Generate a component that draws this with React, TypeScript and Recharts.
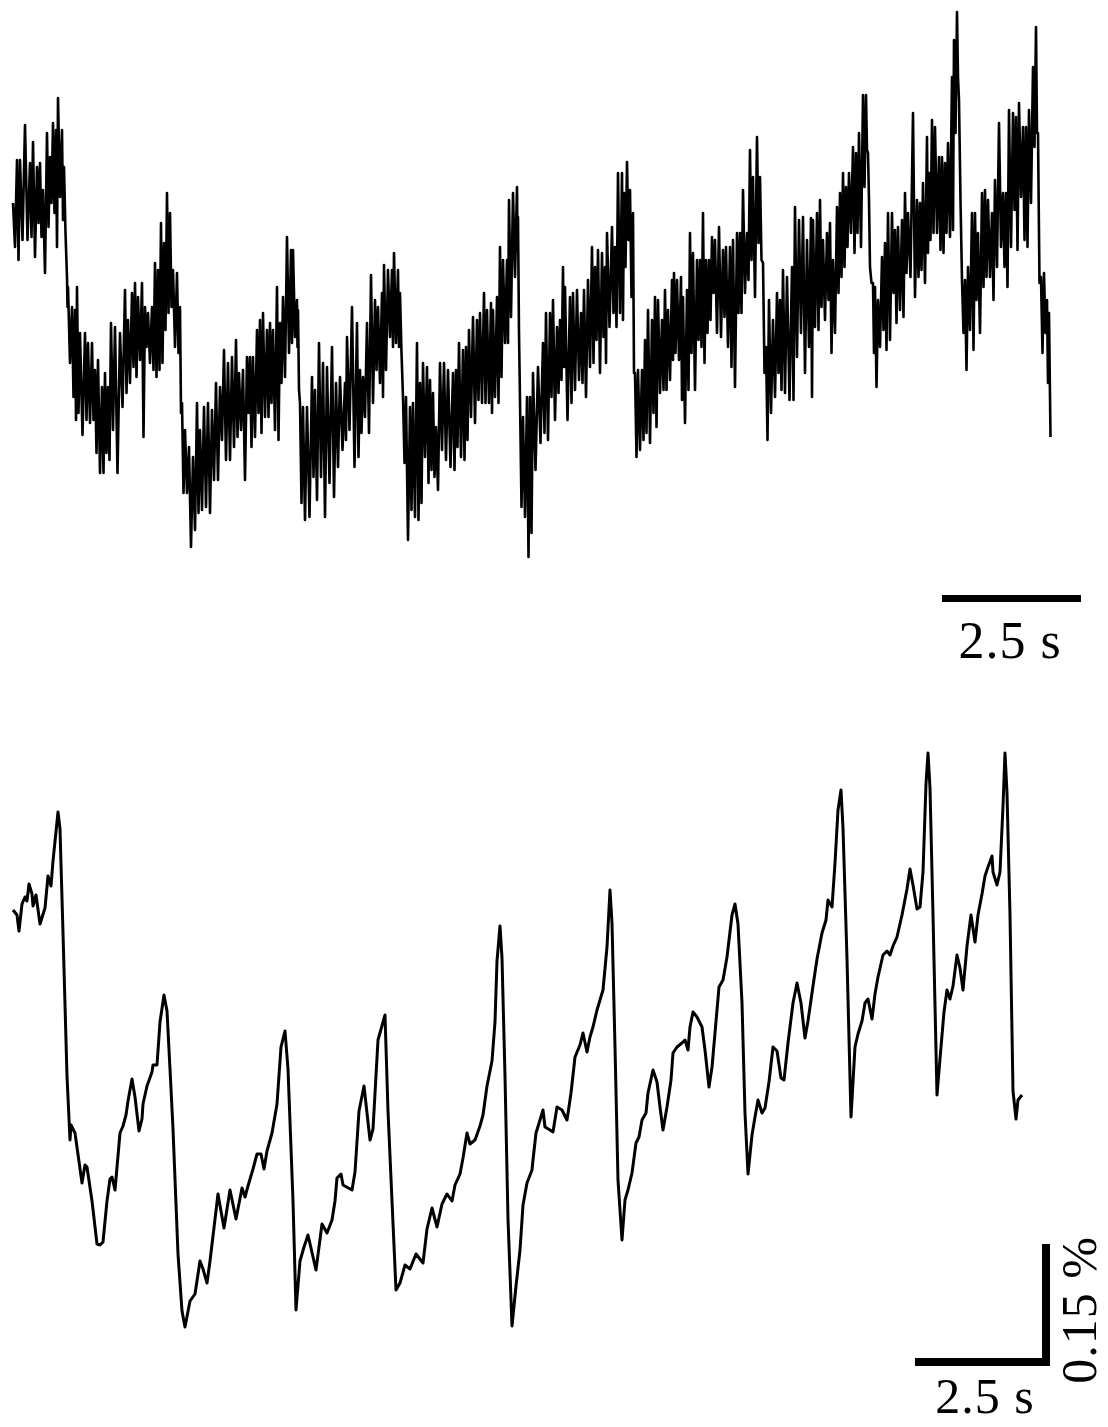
import React from 'react';
import { LineChart, Line, XAxis, YAxis } from 'recharts';

// upper panel: raw trace, read as noise crest / trough at each time step (frames, a.u.)
const topTime = [
  13, 17, 20, 25, 30, 33, 37, 40, 43, 47,
  50, 53, 56, 58, 62, 64, 67, 68, 72, 75,
  77, 80, 85, 88, 92, 95, 98, 102, 105, 108,
  111, 115, 120, 125, 128, 132, 135, 138, 142, 145,
  148, 152, 155, 158, 161, 164, 167, 170, 173, 177,
  180, 182, 185, 189, 193, 197, 200, 204, 208, 212,
  216, 220, 224, 228, 232, 236, 239, 243, 247, 250,
  253, 257, 260, 263, 267, 270, 273, 277, 280, 283,
  287, 291, 293, 297, 298, 300, 303, 307, 312, 315,
  319, 323, 327, 332, 336, 340, 345, 347, 352, 357,
  360, 363, 367, 371, 375, 378, 382, 384, 388, 392,
  394, 398, 400, 403, 406, 410, 413, 417, 420, 423,
  427, 430, 433, 436, 440, 444, 448, 453, 456, 459,
  463, 466, 469, 473, 477, 480, 484, 487, 491, 493,
  497, 500, 503, 507, 509, 513, 517, 518, 520, 523,
  527, 530, 533, 538, 543, 546, 550, 553, 557, 560,
  563, 565, 570, 573, 577, 581, 584, 588, 592, 595,
  598, 602, 605, 607, 612, 615, 618, 622, 624, 627,
  630, 633, 635, 638, 642, 645, 648, 652, 655, 658,
  662, 665, 668, 672, 674, 677, 681, 683, 687, 690,
  693, 697, 700, 703, 706, 709, 712, 715, 719, 723,
  726, 730, 733, 737, 740, 743, 747, 750, 753, 757,
  760, 763, 766, 769, 773, 777, 780, 783, 787, 792,
  795, 799, 803, 807, 811, 813, 817, 820, 823, 827,
  830, 833, 837, 840, 843, 846, 849, 853, 856, 859,
  863, 866, 868, 870, 873, 875, 878, 882, 885, 888,
  892, 895, 898, 902, 905, 908, 913, 917, 920, 923,
  927, 929, 932, 935, 939, 942, 945, 948, 952, 954,
  957, 959, 962, 965, 968, 972, 975, 978, 982, 985,
  988, 992, 995, 999, 1003, 1006, 1009, 1013, 1016, 1019,
  1023, 1026, 1029, 1033, 1036, 1038, 1041, 1044, 1047, 1049,
];

const topCrest = [
  397, 440, 440, 475, 437, 458, 433, 437, 410, 467,
  443, 477, 470, 502, 470, 433, 323, 313, 293, 290,
  313, 267, 267, 257, 257, 230, 240, 213, 227, 213,
  277, 273, 267, 310, 280, 307, 317, 303, 317, 293,
  287, 293, 337, 330, 377, 357, 407, 387, 330, 327,
  293, 197, 170, 153, 143, 197, 170, 193, 197, 190,
  217, 213, 250, 237, 243, 260, 227, 230, 243, 243,
  243, 270, 280, 287, 270, 277, 270, 313, 277, 303,
  363, 350, 350, 300, 290, 197, 193, 193, 223, 210,
  257, 237, 233, 253, 217, 223, 217, 263, 293, 277,
  230, 223, 277, 325, 300, 293, 307, 335, 330, 330,
  347, 330, 307, 203, 203, 193, 197, 257, 217, 237,
  233, 220, 207, 173, 237, 237, 230, 227, 230, 257,
  250, 253, 270, 283, 280, 287, 307, 290, 297, 290,
  303, 353, 340, 340, 400, 407, 413, 383, 200, 183,
  203, 203, 227, 233, 257, 287, 287, 300, 273, 280,
  333, 313, 303, 307, 310, 287, 310, 320, 353, 333,
  350, 347, 333, 367, 373, 353, 427, 427, 407, 438,
  410, 387, 227, 230, 230, 260, 290, 280, 303, 300,
  280, 310, 290, 320, 327, 320, 323, 303, 310, 367,
  347, 340, 340, 387, 340, 340, 363, 360, 373, 350,
  353, 353, 360, 367, 367, 410, 367, 450, 423, 463,
  423, 337, 253, 300, 280, 307, 300, 330, 323, 333,
  393, 380, 383, 360, 382, 380, 387, 400, 360, 367,
  377, 340, 393, 407, 427, 413, 427, 453, 447, 467,
  505, 505, 447, 333, 317, 313, 300, 343, 357, 387,
  387, 370, 373, 380, 407, 387, 487, 400, 397, 417,
  463, 427, 480, 473, 443, 443, 437, 457, 523, 560,
  588, 500, 320, 320, 333, 387, 387, 367, 407, 410,
  400, 387, 420, 477, 407, 407, 490, 487, 483, 497,
  473, 473, 490, 533, 573, 467, 323, 327, 300, 287,
];

const topTrough = [
  353, 340, 360, 360, 363, 343, 377, 363, 327, 373,
  397, 387, 353, 403, 380, 367, 293, 237, 203, 180,
  187, 165, 180, 177, 180, 147, 127, 127, 147, 140,
  170, 127, 193, 207, 217, 233, 223, 240, 163, 253,
  237, 230, 223, 230, 237, 270, 287, 293, 253, 247,
  187, 107, 107, 53, 70, 87, 90, 93, 87, 120,
  120, 160, 140, 140, 153, 163, 170, 120, 187, 153,
  163, 187, 167, 183, 183, 197, 170, 160, 217, 223,
  247, 257, 263, 253, 210, 97, 80, 83, 123, 100,
  123, 83, 117, 103, 133, 150, 160, 170, 133, 143,
  167, 183, 167, 197, 230, 217, 203, 230, 263, 253,
  257, 253, 247, 137, 60, 90, 83, 80, 97, 143,
  117, 130, 123, 110, 150, 140, 133, 130, 153, 143,
  140, 160, 183, 177, 200, 197, 197, 197, 187, 203,
  197, 223, 257, 257, 283, 323, 350, 267, 93, 83,
  43, 67, 130, 157, 167, 160, 203, 180, 207, 220,
  233, 180, 197, 210, 220, 217, 203, 233, 237, 260,
  227, 263, 237, 273, 287, 273, 287, 280, 333, 360,
  303, 227, 143, 150, 160, 167, 157, 187, 173, 207,
  210, 210, 220, 240, 247, 240, 200, 177, 210, 247,
  210, 260, 253, 237, 267, 280, 307, 267, 263, 283,
  253, 233, 213, 287, 287, 307, 320, 340, 303, 357,
  340, 227, 160, 187, 203, 227, 210, 207, 200, 200,
  243, 267, 227, 253, 203, 273, 270, 293, 280, 300,
  247, 267, 307, 323, 333, 353, 367, 347, 367, 353,
  413, 450, 400, 317, 247, 213, 253, 270, 250, 260,
  307, 277, 290, 283, 327, 323, 303, 323, 330, 317,
  347, 360, 367, 367, 350, 347, 367, 363, 370, 467,
  523, 400, 267, 230, 270, 250, 300, 267, 313, 323,
  323, 300, 333, 353, 333, 313, 353, 390, 350, 403,
  360, 353, 397, 453, 467, 317, 247, 267, 217, 163,
];

// lower panel: filtered trace
const bottomTime = [
  13, 17, 19, 22, 25, 27, 29, 32, 33, 36,
  40, 45, 48, 51, 53, 58, 60, 63, 67, 70,
  71, 75, 82, 85, 87, 92, 97, 100, 103, 107,
  110, 112, 115, 120, 123, 126, 128, 132, 135, 139,
  142, 143, 147, 152, 153, 157, 160, 164, 167, 170,
  173, 178, 182, 185, 190, 195, 200, 203, 207, 210,
  213, 218, 224, 230, 236, 242, 245, 248, 253, 257,
  261, 264, 267, 272, 277, 281, 285, 288, 293, 296,
  300, 304, 308, 316, 322, 327, 332, 335, 337, 341,
  343, 352, 355, 359, 364, 370, 373, 378, 385, 388,
  392, 396, 400, 405, 410, 416, 423, 427, 432, 437,
  442, 447, 452, 455, 460, 463, 467, 470, 475, 480,
  483, 487, 492, 495, 497, 500, 502, 505, 508, 512,
  516, 520, 523, 527, 532, 533, 536, 540, 543, 545,
  550, 553, 557, 562, 567, 571, 575, 580, 583, 587,
  590, 593, 597, 600, 603, 607, 610, 612, 615, 618,
  622, 625, 628, 632, 636, 639, 642, 646, 648, 653,
  657, 660, 663, 667, 671, 673, 677, 682, 685, 688,
  690, 693, 697, 702, 705, 709, 712, 715, 719, 723,
  727, 732, 735, 738, 742, 745, 748, 752, 755, 758,
  762, 765, 769, 773, 777, 781, 784, 788, 793, 797,
  801, 805, 808, 813, 817, 822, 826, 828, 832, 835,
  838, 841, 843, 847, 851, 855, 858, 862, 865, 868,
  872, 875, 878, 883, 887, 890, 893, 897, 902, 907,
  910, 913, 917, 920, 923, 926, 928, 930, 933, 937,
  941, 944, 947, 950, 953, 957, 960, 963, 967, 971,
  975, 978, 982, 985, 988, 992, 993, 997, 1000, 1003,
  1005, 1007, 1010, 1013, 1016, 1018, 1022,
];

const bottomSignal = [
  490, 485, 469, 496, 503, 499, 516, 506, 494, 505,
  476, 492, 524, 514, 539, 588, 571, 467, 324, 260,
  275, 267, 217, 235, 233, 199, 156, 155, 158, 199,
  221, 223, 210, 267, 274, 285, 299, 321, 303, 269,
  281, 296, 314, 328, 335, 335, 378, 405, 389, 331,
  271, 146, 89, 73, 99, 106, 139, 131, 117, 139,
  164, 206, 172, 210, 181, 212, 203, 214, 231, 246,
  246, 231, 249, 267, 296, 353, 369, 331, 199, 90,
  139, 153, 165, 130, 176, 167, 180, 199, 222, 226,
  215, 210, 228, 289, 314, 260, 271, 360, 385, 289,
  199, 110, 117, 135, 131, 146, 137, 171, 192, 173,
  196, 206, 199, 215, 226, 242, 267, 256, 260, 274,
  285, 314, 339, 378, 439, 474, 442, 324, 181, 74,
  114, 150, 195, 217, 230, 240, 267, 280, 290, 273,
  270, 268, 293, 290, 280, 307, 343, 355, 367, 348,
  363, 373, 390, 400, 410, 453, 510, 477, 353, 220,
  160, 200, 210, 227, 257, 263, 280, 287, 307, 330,
  318, 293, 270, 293, 320, 347, 353, 357, 360, 350,
  373, 388, 383, 373, 350, 313, 333, 367, 413, 420,
  443, 485, 496, 476, 397, 287, 226, 265, 283, 300,
  287, 292, 318, 353, 349, 322, 320, 357, 397, 417,
  397, 362, 379, 414, 441, 467, 480, 500, 493, 537,
  590, 610, 572, 441, 283, 353, 366, 379, 397, 401,
  381, 406, 423, 445, 449, 445, 454, 463, 485, 511,
  531, 515, 491, 493, 528, 616, 647, 612, 485, 305,
  353, 388, 410, 401, 414, 445, 432, 410, 454, 485,
  458, 485, 506, 524, 533, 544, 528, 515, 528, 594,
  647, 607, 485, 309, 281, 300, 305,
];

// each reading gives a crest, the trough sits halfway to the next reading
const topData = topTime.flatMap((t, i) => {
  const next = i < topTime.length - 1 ? topTime[i + 1] : t + 3;
  return [
    { t, v: topCrest[i] },
    { t: (t + next) / 2, v: topTrough[i] },
  ];
});

const bottomData = bottomTime.map((t, i) => ({ t, v: bottomSignal[i] }));

const noMargin = { top: 0, right: 0, bottom: 0, left: 0 };

const labelStyle: React.CSSProperties = {
  position: 'absolute',
  fontFamily: '"Liberation Serif", "Times New Roman", serif',
  fontSize: 52,
  lineHeight: '40px',
  height: 40,
  width: 170,
  textAlign: 'center',
  whiteSpace: 'nowrap',
  color: '#000',
  letterSpacing: 1,
};

const bar = (left: number, top: number, width: number, height: number): React.CSSProperties => ({
  position: 'absolute',
  left,
  top,
  width,
  height,
  background: '#000',
});

export default function App() {
  return (
    <div style={{ position: 'absolute', left: 0, top: 0, width: 1108, height: 1427, background: '#fff', overflow: 'hidden' }}>
      <div style={{ position: 'absolute', left: 0, top: 0 }}>
        <LineChart width={1108} height={600} data={topData} margin={noMargin}>
          <XAxis dataKey="t" type="number" domain={[0, 1108]} hide />
          <YAxis type="number" domain={[0, 600]} hide />
          <Line
            type="linear"
            dataKey="v"
            stroke="#000"
            strokeWidth={2.6}
            strokeLinejoin="round"
            dot={false}
            activeDot={false}
            isAnimationActive={false}
          />
        </LineChart>
      </div>

      <div style={bar(942, 595, 139, 7)} />
      <div style={{ ...labelStyle, left: 925, top: 621 }}>2.5 s</div>

      <div style={{ position: 'absolute', left: 0, top: 700 }}>
        <LineChart width={1108} height={700} data={bottomData} margin={noMargin}>
          <XAxis dataKey="t" type="number" domain={[0, 1108]} hide />
          <YAxis type="number" domain={[0, 700]} hide />
          <Line
            type="linear"
            dataKey="v"
            stroke="#000"
            strokeWidth={3}
            strokeLinejoin="round"
            dot={false}
            activeDot={false}
            isAnimationActive={false}
          />
        </LineChart>
      </div>

      <div style={bar(915, 1358, 135, 8)} />
      <div style={bar(1042, 1244, 8, 122)} />
      <div style={{ ...labelStyle, fontSize: 50, left: 900, top: 1376 }}>2.5 s</div>
      <div
        style={{
          ...labelStyle,
          fontSize: 50,
          left: 994,
          top: 1290,
          transform: 'rotate(-90deg)',
        }}
      >
        0.15 %
      </div>
    </div>
  );
}
